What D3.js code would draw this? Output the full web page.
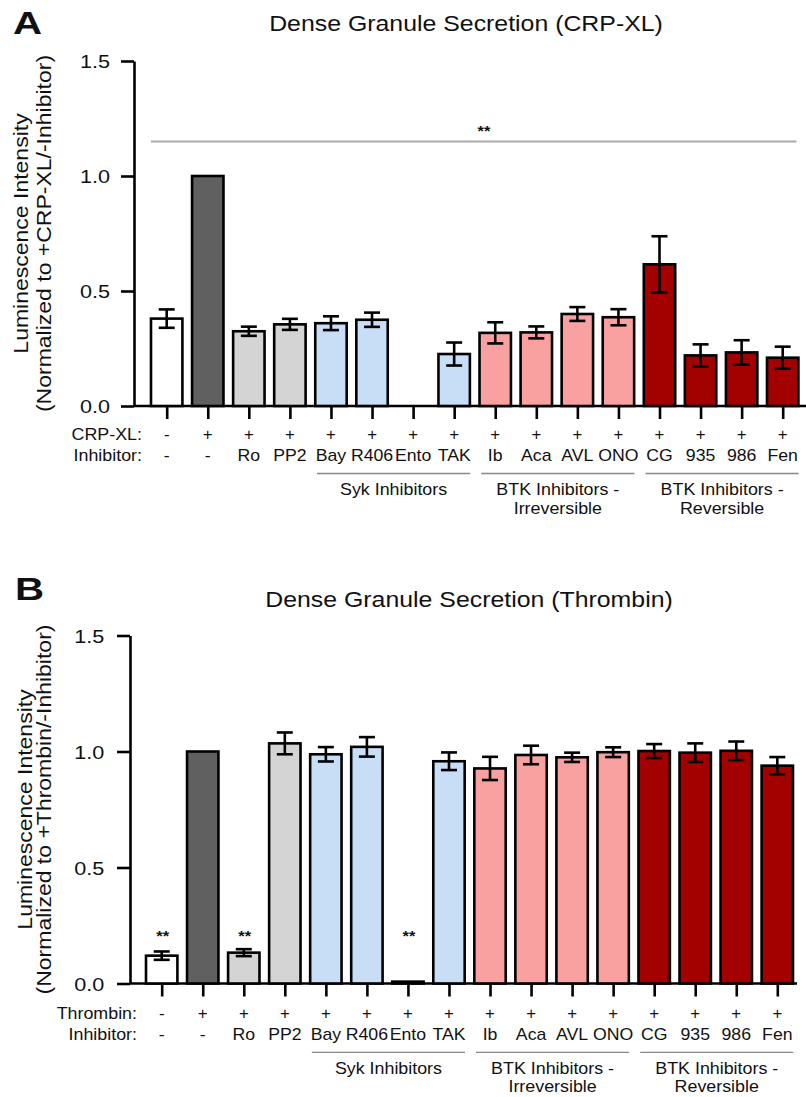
<!DOCTYPE html>
<html>
<head>
<meta charset="utf-8">
<script src="https://cdn.jsdelivr.net/npm/d3@7"></script>
<style>
  html, body { margin: 0; padding: 0; background: #fff; }
  svg { display: block; }
  text { font-family: "Liberation Sans", Arial, Helvetica, sans-serif; fill: #111; }
</style>
</head>
<body>
<svg id="chart" width="806" height="1097"></svg>
<script>
// ---------------- DATA ----------------
const inhibitors = ["-", "-", "Ro", "PP2", "Bay", "R406", "Ento", "TAK", "Ib", "Aca", "AVL", "ONO", "CG", "935", "986", "Fen"];
const agonistSigns = ["-", "+", "+", "+", "+", "+", "+", "+", "+", "+", "+", "+", "+", "+", "+", "+"];
const barClass = ["none", "agonist", "src", "src", "syk", "syk", "syk", "syk",
                  "btkIrr", "btkIrr", "btkIrr", "btkIrr", "btkRev", "btkRev", "btkRev", "btkRev"];
const classColors = { none: "#ffffff", agonist: "#606060", src: "#d4d4d4", syk: "#c8ddf6",
                      btkIrr: "#f9a1a1", btkRev: "#a30000" };

// Panel A: CRP-XL (Ento not shown)
const valuesA = [0.38, 1.0, 0.325, 0.355, 0.36, 0.375, null, 0.226, 0.318, 0.32, 0.40, 0.386, 0.616, 0.22, 0.233, 0.21];
const errorsA = [0.04, 0, 0.02, 0.024, 0.03, 0.031, 0, 0.05, 0.046, 0.026, 0.03, 0.035, 0.122, 0.048, 0.053, 0.048];
// Panel B: Thrombin
const valuesB = [0.12, 1.0, 0.133, 1.035, 0.988, 1.02, 0.008, 0.958, 0.927, 0.985, 0.975, 0.997, 1.002, 0.995, 1.003, 0.939];
const errorsB = [0.018, 0, 0.015, 0.047, 0.031, 0.042, 0, 0.038, 0.05, 0.04, 0.02, 0.021, 0.03, 0.04, 0.04, 0.037];
const sigBarsB = [0, 2, 6];
const sigLineA = 1.15;
const yTicks = [0, 0.5, 1.0, 1.5];
const groups = [
  { lines: ["Syk Inhibitors"], first: 4, last: 7 },
  { lines: ["BTK Inhibitors -", "Irreversible"], first: 8, last: 11 },
  { lines: ["BTK Inhibitors -", "Reversible"], first: 12, last: 15 }
];

// ---------------- DRAW ----------------
const svg = d3.select("#chart");

function txt(g, x, y, s, o = {}) {
  const t = g.append("text")
    .attr("transform", `translate(${x},${y}) rotate(${o.rot || 0}) scale(${o.sx || 1},1)`)
    .attr("text-anchor", o.anchor || "middle")
    .attr("font-size", o.size || 17)
    .attr("font-weight", o.weight || "normal")
    .text(s);
  if (o.fill) t.style("fill", o.fill);
  return t;
}

function panel(cfg) {
  const g = svg.append("g");
  const y = d3.scaleLinear().domain([0, 1.5]).range([cfg.y0, cfg.yTop]);
  const x = d3.scalePoint().domain(d3.range(inhibitors.length)).range([cfg.xFirst, cfg.xLast]);
  const bw = x.step() * 0.765;

  // panel letter + title
  txt(g, cfg.letterX, cfg.letterY, cfg.letter, { size: 31, weight: "bold", anchor: "start", sx: 1.3 });
  txt(g, cfg.titleX, cfg.titleY, cfg.title, { size: 22, sx: 1.13 });

  // y label
  const yMid = (cfg.y0 + cfg.yTop) / 2;
  txt(g, cfg.yl1, yMid, "Luminescence Intensity", { size: 19.5, rot: -90, sx: 1.18 });
  txt(g, cfg.yl2, yMid, cfg.ylabel2, { size: 19.5, rot: -90, sx: 1.18 });

  // baseline
  g.append("line")
    .attr("x1", cfg.axisX).attr("x2", cfg.xEnd)
    .attr("y1", y(0)).attr("y2", y(0))
    .attr("stroke", "#000").attr("stroke-width", 2.6);

  // y axis
  const ya = g.append("g").attr("transform", `translate(${cfg.axisX},0)`)
    .call(d3.axisLeft(y).tickValues(yTicks).tickFormat(d3.format(".1f")).tickSize(13).tickSizeOuter(0));
  ya.select(".domain").attr("stroke-width", 2.6);
  ya.selectAll(".tick line").attr("stroke-width", 2.6);
  ya.selectAll(".tick text")
    .attr("font-size", 18.5).attr("font-family", "Liberation Sans, Arial, sans-serif")
    .attr("x", cfg.tickLabelX).attr("dy", "0.36em")
    .attr("transform", "scale(1.17,1)")
    .style("fill", "#111");

  // x axis ticks
  const xa = g.append("g").attr("transform", `translate(0,${y(0)})`)
    .call(d3.axisBottom(x).tickSize(13).tickSizeOuter(0).tickFormat(""));
  xa.select(".domain").remove();
  xa.selectAll(".tick line").attr("stroke-width", 2.6);

  // significance line
  if (cfg.sigLine != null) {
    g.append("line")
      .attr("x1", x(0) - bw / 2).attr("x2", x(inhibitors.length - 1) + bw / 2 - 2)
      .attr("y1", y(cfg.sigLine)).attr("y2", y(cfg.sigLine))
      .attr("stroke", "#aaaaaa").attr("stroke-width", 2.2);
    txt(g, cfg.sigX, y(cfg.sigLine) - 6, "**", { size: 15, weight: "bold", sx: 1.1 });
  }

  // bars
  const data = cfg.values.map((v, i) => ({ i, v, e: cfg.errors[i], c: barClass[i] }))
    .filter(d => d.v != null);
  g.selectAll("rect.bar").data(data).join("rect")
    .attr("class", "bar")
    .attr("x", d => x(d.i) - bw / 2)
    .attr("y", d => y(d.v))
    .attr("width", bw)
    .attr("height", d => y(0) - y(d.v))
    .attr("fill", d => classColors[d.c])
    .attr("stroke", "#000").attr("stroke-width", 2.6);

  // error bars
  const eb = data.filter(d => d.e > 0);
  const cap = 8;
  g.selectAll("line.err").data(eb).join("line").attr("class", "err")
    .attr("x1", d => x(d.i)).attr("x2", d => x(d.i))
    .attr("y1", d => y(d.v - d.e)).attr("y2", d => y(d.v + d.e))
    .attr("stroke", "#000").attr("stroke-width", 2.6);
  g.selectAll("line.capT").data(eb).join("line").attr("class", "capT")
    .attr("x1", d => x(d.i) - cap).attr("x2", d => x(d.i) + cap)
    .attr("y1", d => y(d.v + d.e)).attr("y2", d => y(d.v + d.e))
    .attr("stroke", "#000").attr("stroke-width", 2.6);
  g.selectAll("line.capB").data(eb).join("line").attr("class", "capB")
    .attr("x1", d => x(d.i) - cap).attr("x2", d => x(d.i) + cap)
    .attr("y1", d => y(d.v - d.e)).attr("y2", d => y(d.v - d.e))
    .attr("stroke", "#000").attr("stroke-width", 2.6);

  // significance stars over bars
  (cfg.sigBars || []).forEach(i => {
    txt(g, x(i) + 1, cfg.y0 - 43, "**", { size: 15, weight: "bold", sx: 1.1 });
  });

  // condition rows
  txt(g, cfg.rowLabelX, cfg.row1, cfg.agonist + ":", { size: 17, anchor: "end", sx: 1.05 });
  txt(g, cfg.rowLabelX, cfg.row2, "Inhibitor:", { size: 17, anchor: "end", sx: 1.05 });
  agonistSigns.forEach((s, i) => txt(g, x(i), cfg.row1, s, { size: 16, sx: 1.05 }));
  inhibitors.forEach((s, i) => txt(g, x(i), cfg.row2, s, { size: 17, sx: 1.04 }));

  // group brackets
  groups.forEach(gr => {
    const x1 = x(gr.first) - 14, x2 = x(gr.last) + 16;
    g.append("line").attr("x1", x1).attr("x2", x2)
      .attr("y1", cfg.groupLine).attr("y2", cfg.groupLine)
      .attr("stroke", "#888").attr("stroke-width", 1.3);
    gr.lines.forEach((l, k) => txt(g, (x1 + x2) / 2, cfg.groupLine + 21.5 + k * 18.5, l, { size: 17, sx: 1.05 }));
  });
}

panel({
  letter: "A", letterX: 13, letterY: 33.5,
  title: "Dense Granule Secretion (CRP-XL)", titleX: 466, titleY: 31,
  ylabel2: "(Normalized to +CRP-XL/-Inhibitor)", yl1: 28, yl2: 51,
  agonist: "CRP-XL",
  axisX: 134, xEnd: 806, y0: 406, yTop: 61, xFirst: 166.7, xLast: 782.7,
  tickLabelX: -20.5,
  values: valuesA, errors: errorsA, sigLine: sigLineA, sigX: 484,
  rowLabelX: 142, row1: 439.5, row2: 460.5, groupLine: 473.5
});

panel({
  letter: "B", letterX: 15, letterY: 599.5,
  title: "Dense Granule Secretion (Thrombin)", titleX: 469, titleY: 606.5,
  ylabel2: "(Normalized to +Thrombin/-Inhibitor)", yl1: 32, yl2: 51,
  agonist: "Thrombin",
  axisX: 130, xEnd: 797, y0: 983.5, yTop: 635.5, xFirst: 161.7, xLast: 777.3,
  tickLabelX: -22,
  values: valuesB, errors: errorsB, sigLine: null, sigBars: sigBarsB,
  rowLabelX: 137, row1: 1018.5, row2: 1039.5, groupLine: 1052.3
});
</script>
</body>
</html>
